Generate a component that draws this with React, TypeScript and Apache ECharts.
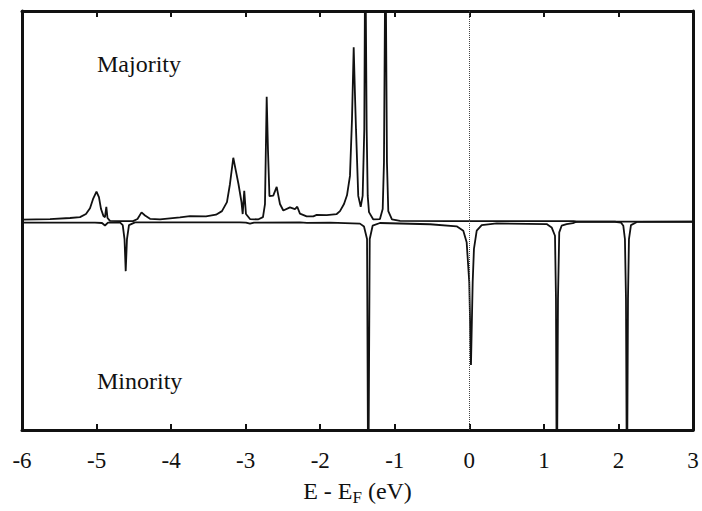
import React, { useEffect, useRef } from "react";
import * as echarts from "echarts";

// Energy axis (E - E_F, eV)
const energyMin = -6;
const energyMax = 3;
const energyStep = 1;

// Spin-resolved density of states, [energy (eV), DOS (arb. units)]
const majorityDos: [number, number][] = [
  [-6.0, 0.09], [-5.624, 0.12], [-5.356, 0.17], [-5.222, 0.21], [-5.142, 0.36],
  [-5.088, 0.64], [-5.048, 1.07], [-5.001, 1.43], [-4.968, 1.17], [-4.94, 0.6],
  [-4.907, 0.26], [-4.887, 0.21], [-4.869, 0.71], [-4.853, 0.17], [-4.82, 0.03],
  [-4.686, 0.02], [-4.511, 0.02], [-4.451, 0.12], [-4.397, 0.44], [-4.35, 0.29],
  [-4.283, 0.13], [-4.149, 0.1], [-3.881, 0.2], [-3.747, 0.26], [-3.532, 0.25],
  [-3.398, 0.33], [-3.318, 0.5], [-3.251, 0.93], [-3.211, 1.79], [-3.166, 3.06],
  [-3.13, 2.41], [-3.096, 1.79], [-3.056, 0.93], [-3.04, 0.36], [-3.019, 1.47],
  [-2.996, 0.36], [-2.942, 0.12], [-2.835, 0.1], [-2.768, 0.21], [-2.741, 0.84],
  [-2.718, 5.99], [-2.701, 3.46], [-2.681, 1.22], [-2.63, 1.24], [-2.584, 1.66],
  [-2.54, 0.84], [-2.495, 0.53], [-2.406, 0.68], [-2.339, 0.6], [-2.308, 0.71],
  [-2.272, 0.38], [-2.182, 0.25], [-2.093, 0.25], [-2.047, 0.32], [-1.913, 0.31],
  [-1.779, 0.36], [-1.735, 0.5], [-1.681, 0.84], [-1.641, 1.26], [-1.601, 2.19],
  [-1.574, 4.89], [-1.551, 8.36], [-1.534, 6.09], [-1.52, 4.42], [-1.49, 1.23],
  [-1.457, 0.71], [-1.431, 1.23], [-1.409, 4.42], [-1.396, 14.0], [-1.377, 4.42],
  [-1.363, 1.23], [-1.346, 0.45], [-1.288, 0.1], [-1.199, 0.12], [-1.162, 0.6],
  [-1.145, 2.84], [-1.125, 14.0], [-1.105, 2.84], [-1.087, 0.5], [-1.038, 0.1],
  [-0.93, 0.03], [-0.26, 0.02], [1.081, 0.02], [1.4, 0.02], [1.46, 0.0], [3.0, 0.0],
];

const minorityDos: [number, number][] = [
  [-6.0, -0.05], [-5.021, -0.05], [-4.927, -0.07], [-4.887, -0.19], [-4.847, -0.05],
  [-4.686, -0.04], [-4.649, -0.17], [-4.625, -0.84], [-4.609, -2.38], [-4.592, -0.84],
  [-4.565, -0.17], [-4.484, -0.04], [-3.076, -0.04], [-2.996, -0.05], [-2.942, -0.1],
  [-2.888, -0.05], [-2.272, -0.04], [-2.178, -0.06], [-1.869, -0.05], [-1.467, -0.1],
  [-1.413, -0.24], [-1.372, -0.84], [-1.356, -14.0], [-1.336, -0.84], [-1.297, -0.2],
  [-1.199, -0.07], [-0.528, -0.13], [-0.17, -0.23], [-0.081, -0.44], [-0.036, -0.99],
  [-0.001, -2.9], [0.022, -6.88], [0.045, -2.9], [0.062, -1.31], [0.099, -0.44],
  [0.166, -0.17], [0.367, -0.09], [1.037, -0.12], [1.104, -0.28], [1.149, -0.68],
  [1.162, -3.7], [1.173, -14.0], [1.189, -3.7], [1.206, -0.52], [1.238, -0.2],
  [1.305, -0.12], [1.39, -0.08], [1.42, -0.03], [1.46, -0.01], [1.953, -0.01],
  [2.034, -0.05], [2.065, -0.2], [2.087, -0.84], [2.101, -3.7], [2.114, -14.0],
  [2.128, -3.7], [2.141, -0.84], [2.168, -0.17], [2.248, -0.02], [3.0, -0.01],
];

const spinLabels = ["Majority", "Minority"];

const SERIF = "'Times New Roman', 'Liberation Serif', 'DejaVu Serif', serif";
const INK = "#111";

export default function App() {
  const ref = useRef<HTMLDivElement>(null);

  useEffect(() => {
    document.body.style.margin = "0";
    if (!ref.current) return;
    const chart = echarts.init(ref.current, undefined, { renderer: "svg" });

    const frameLine = { show: true, onZero: false, lineStyle: { color: INK, width: 3 } };
    const ticks = { show: true, inside: true, length: 6, lineStyle: { color: INK, width: 2 } };

    chart.setOption({
      animation: false,
      backgroundColor: "#fff",
      grid: { left: 22, right: 9, top: 11, bottom: 79, containLabel: false },
      xAxis: [
        {
          type: "value",
          position: "bottom",
          min: energyMin,
          max: energyMax,
          interval: energyStep,
          axisLine: frameLine,
          axisTick: ticks,
          splitLine: { show: false },
          axisLabel: {
            color: INK,
            fontFamily: SERIF,
            fontSize: 23,
            margin: 19,
          },
          name: "{a|E - E}{b|F}{a| (eV)}",
          nameLocation: "middle",
          nameGap: 46,
          nameTextStyle: {
            rich: {
              a: { fontFamily: SERIF, fontSize: 24, color: INK, lineHeight: 30, verticalAlign: "middle" },
              b: { fontFamily: SERIF, fontSize: 17, color: INK, lineHeight: 30, verticalAlign: "bottom" },
            },
          },
        },
        {
          type: "value",
          position: "top",
          min: energyMin,
          max: energyMax,
          interval: energyStep,
          axisLine: frameLine,
          axisTick: ticks,
          axisLabel: { show: false },
          splitLine: { show: false },
        },
      ],
      yAxis: [
        {
          type: "value",
          position: "left",
          min: -10,
          max: 10.1,
          axisLine: frameLine,
          axisTick: { show: false },
          axisLabel: { show: false },
          splitLine: { show: false },
        },
        {
          type: "value",
          position: "right",
          min: -10,
          max: 10.1,
          axisLine: frameLine,
          axisTick: { show: false },
          axisLabel: { show: false },
          splitLine: { show: false },
        },
      ],
      graphic: [
        {
          type: "text",
          left: 97,
          top: 52,
          style: { text: spinLabels[0], font: `24px ${SERIF}`, fill: INK },
        },
        {
          type: "text",
          left: 97,
          top: 369,
          style: { text: spinLabels[1], font: `24px ${SERIF}`, fill: INK },
        },
      ],
      series: [
        {
          name: spinLabels[0],
          type: "line",
          data: majorityDos,
          showSymbol: false,
          symbol: "none",
          clip: true,
          lineStyle: { color: INK, width: 1.8 },
          markLine: {
            silent: true,
            symbol: ["none", "none"],
            label: { show: false },
            lineStyle: { type: "dotted", color: "#444", width: 1 },
            data: [{ xAxis: 0 }],
          },
        },
        {
          name: spinLabels[1],
          type: "line",
          data: minorityDos,
          showSymbol: false,
          symbol: "none",
          clip: true,
          lineStyle: { color: INK, width: 1.8 },
        },
      ],
    });

    return () => chart.dispose();
  }, []);

  return <div ref={ref} style={{ width: 702, height: 511 }} />;
}
